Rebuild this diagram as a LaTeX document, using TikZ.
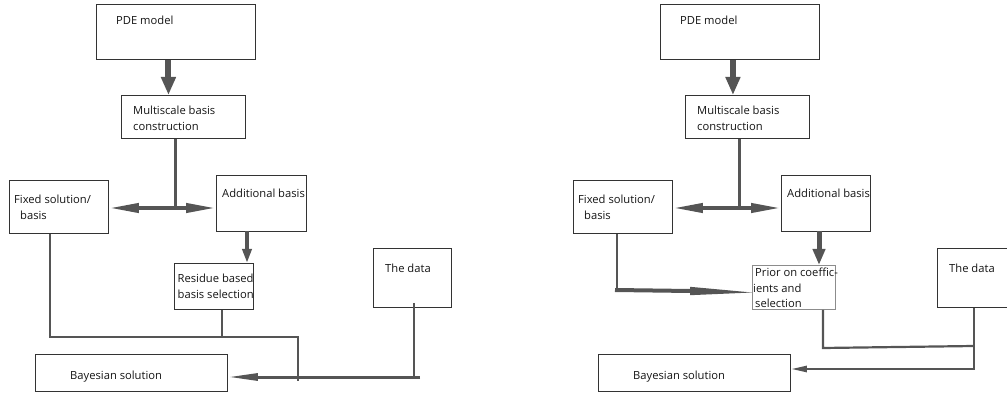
\documentclass[tikz,border=0pt]{standalone}
\usepackage{fontspec}
\setmainfont{Open Sans}
\usetikzlibrary{arrows.meta,calc}
\definecolor{ln}{HTML}{555555}
\definecolor{bd}{HTML}{333333}
\tikzset{
  box/.style={draw=bd,line width=0.9pt,rectangle,anchor=north west,inner sep=0pt},
  txt/.style={anchor=base west,inner sep=0pt,align=left,text=black!92,font=\fontsize{11.2}{15.5}\selectfont},
  conn/.style={draw=ln,line width=2.2pt},
  fatarr/.style={draw=ln,line width=6pt,-{Triangle[length=18pt,width=14pt]}},
  medarr/.style={draw=ln,line width=4pt,-{Triangle[length=30pt,width=9pt]}},
  downarr/.style={draw=ln,line width=4pt,-{Triangle[length=14pt,width=9pt]}},
  downarrb/.style={draw=ln,line width=5pt,-{Triangle[length=16pt,width=12pt]}},
  wedge/.style={fill=ln},
  bayarr/.style={draw=ln,line width=3pt,-{Triangle[length=30pt,width=7pt]}},
  bayarrb/.style={draw=ln,line width=2.5pt,-{Triangle[length=16pt,width=6pt]}},
}
\begin{document}
\begin{tikzpicture}[x=1pt,y=-1pt]
\useasboundingbox (0,0) rectangle (1007,395);
% ---------- left diagram ----------
\node[box,minimum width=159pt,minimum height=55pt] (pde) at (96,4) {};
\node[txt] (pdet) at (116,25) {PDE model};
\node[box,minimum width=124pt,minimum height=43pt] (ms) at (121,95) {};
\node[txt] (mst) at (133,130.5) {Multiscale basis\\construction};
\node[box,minimum width=99pt,minimum height=53pt] (fx) at (9,180) {};
\node[txt] (fxt) at (14,219.5) {Fixed solution/\\\hspace*{6pt}basis};
\node[box,minimum width=90pt,minimum height=56pt] (ad) at (216,175) {};
\node[txt] (adt) at (222,198) {Additional basis};
\node[box,minimum width=79pt,minimum height=46pt] (rs) at (174,263) {};
\node[txt] (rst) at (177.5,298.5) {Residue based\\basis selection};
\node[box,minimum width=78pt,minimum height=59pt] (dt) at (373,248) {};
\node[txt] (dtt) at (385,273) {The data};
\node[box,minimum width=192pt,minimum height=37pt] (by) at (35,354) {};
\node[txt] (byt) at (70,380) {Bayesian solution};

\draw[fatarr] ([xshift=-7.5pt]pde.south) -- ([xshift=-7.5pt]pde.south |- ms.north);
\coordinate (j1) at (175,208);
\draw[conn,line width=3pt] (ms.south -| j1) -- (j1);
\draw[medarr] (j1) -- (fx.east |- j1);
\draw[medarr] (j1) -- (ad.west |- j1);
\coordinate (a1) at (247,231);
\draw[downarr] (a1) -- (a1 |- rs.north);
\coordinate (c1) at (50,337);
\coordinate (c2) at (298,337);
\draw[conn] (fx.south -| c1) -- (c1) -- (c2) -- ++(0,44);
\coordinate (c4) at (222,337);
\draw[conn] (rs.south -| c4) -- (c4);
\coordinate (c3) at (414,377);
\draw[conn] ([yshift=5pt]dt.south -| c3) -- (c3);
\draw[bayarr] (420,377) -- (by.east |- c3);

% ---------- right diagram ----------
\node[box,minimum width=159pt,minimum height=55pt] (pde2) at (660,4) {};
\node[txt] (pde2t) at (680,25) {PDE model};
\node[box,minimum width=124pt,minimum height=43pt] (ms2) at (685,95) {};
\node[txt] (ms2t) at (697,130.5) {Multiscale basis\\construction};
\node[box,minimum width=99pt,minimum height=53pt] (fx2) at (573,180) {};
\node[txt] (fx2t) at (578,219.5) {Fixed solution/\\\hspace*{6pt}basis};
\node[box,minimum width=89pt,minimum height=56pt] (ad2) at (781,175) {};
\node[txt] (ad2t) at (787,198) {Additional basis};
\node[box,draw=black!45,minimum width=83pt,minimum height=44pt] (pr) at (752,265) {};
\node[txt] (prt) at (753,308) {\hspace*{2pt}Prior on coeffic-\\ients and\\\hspace*{2pt}selection};
\node[box,minimum width=78pt,minimum height=59pt] (dt2) at (937,248) {};
\node[txt] (dt2t) at (949,273) {The data};
\node[box,minimum width=192pt,minimum height=37pt] (by2) at (598,354) {};
\node[txt] (by2t) at (633,380) {Bayesian solution};

\draw[fatarr] ([xshift=-7pt]pde2.south) -- ([xshift=-7pt]pde2.south |- ms2.north);
\coordinate (j2) at (739,208);
\draw[conn,line width=3pt] (ms2.south -| j2) -- (j2);
\draw[medarr] (j2) -- (fx2.east |- j2);
\draw[medarr] (j2) -- (ad2.west |- j2);
\coordinate (a2) at (819,231);
\draw[downarrb] (a2) -- (a2 |- pr.north);
\coordinate (d1) at (617,290);
\coordinate (d3) at (690,291);
\draw[conn] (fx2.south -| d1) -- (d1);
\draw[conn,line width=4pt] ([xshift=-2pt]d1) -- (d3);
\coordinate (d2) at (752,292.5);
\fill[wedge] ([yshift=-4.2pt]d3) -- (pr.west |- d2) -- ([yshift=4.2pt]d3) -- cycle;
\coordinate (e1) at (823,348);
\coordinate (e2) at (974,346);
\draw[conn] (pr.south -| e1) -- (e1) -- (e2);
\coordinate (e3) at (974,370);
\draw[conn] (dt2.south -| e3) -- (e3);
\coordinate (e4) at (974,369);
\draw[bayarrb] (e4) -- (by2.east |- e4);
\end{tikzpicture}
\end{document}
